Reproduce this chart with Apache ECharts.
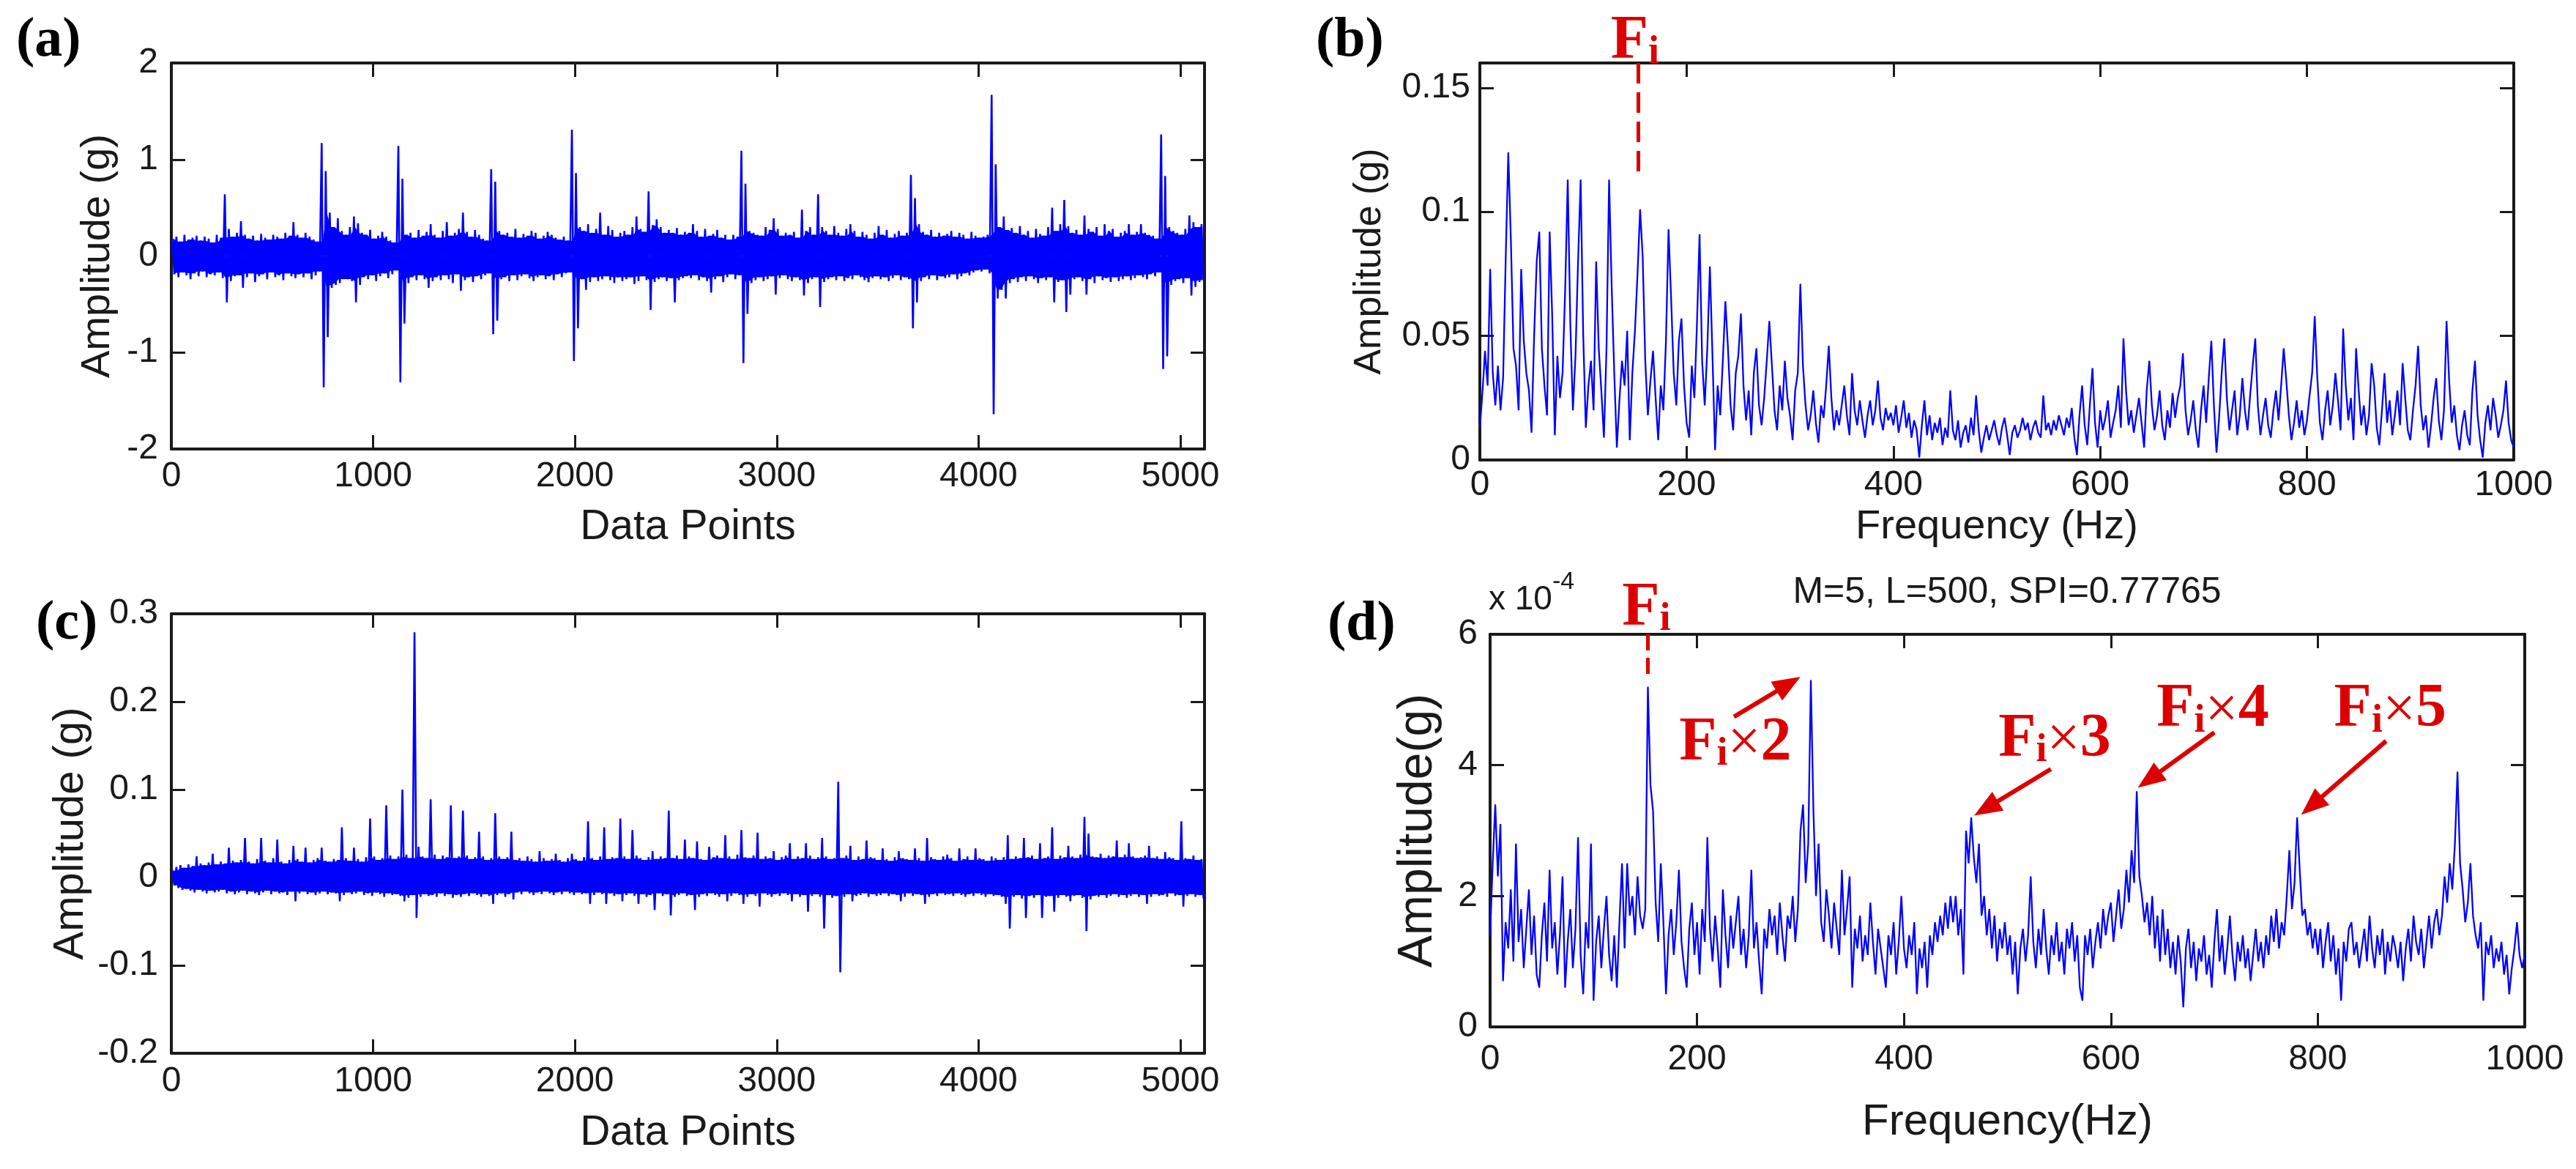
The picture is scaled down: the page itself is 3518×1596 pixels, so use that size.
<!DOCTYPE html>
<html><head><meta charset="utf-8">
<script src="https://cdn.jsdelivr.net/npm/echarts@6/dist/echarts.min.js"></script>
<style>html,body{margin:0;padding:0;background:#fff}#c{width:3518px;height:1596px}</style>
</head><body><div id="c"></div>
<script>
// ---------- DATA ----------
// (a) raw signal: max / min of each 20-sample block, unit 0.01 g (256 blocks = 5120 points)
const aHi = [
18,20,15,22,17,19,21,16,20,18,14,22,19,64,28,20,
24,36,22,18,21,16,23,19,17,22,20,18,24,21,35,22,
19,24,20,17,15,117,88,45,30,39,26,22,30,41,34,24,
22,27,18,21,25,20,16,14,114,80,22,24,19,27,21,25,
33,22,19,26,35,21,24,28,45,25,20,27,22,18,16,90,
77,26,22,24,20,28,19,23,21,26,24,18,21,25,22,19,
17,20,16,131,86,30,26,33,24,28,45,22,31,27,20,24,
26,22,30,41,28,25,67,32,38,30,24,27,24,29,22,25,
24,33,26,20,28,21,23,27,19,22,17,22,20,109,75,26,
24,22,21,30,27,39,28,21,24,22,25,19,48,26,30,22,
64,30,26,22,31,24,21,28,33,26,20,25,22,18,24,31,
22,27,19,23,26,21,24,84,60,33,25,22,27,20,24,21,
23,26,20,24,22,18,25,21,19,20,22,167,95,30,41,27,
29,24,31,22,26,19,28,23,21,30,50,26,33,58,31,24,
27,22,42,28,25,30,21,33,26,28,20,24,26,33,22,25,
33,24,22,21,18,126,83,30,26,24,22,28,42,35,30,33];
const aLo = [
-19,-22,-17,-20,-24,-18,-21,-16,-22,-19,-20,-17,-23,-48,-26,-21,
-20,-33,-22,-18,-27,-21,-19,-24,-17,-22,-20,-25,-18,-21,-23,-19,
-22,-18,-24,-20,-16,-136,-84,-33,-30,-28,-24,-24,-26,-48,-30,-22,
-24,-20,-26,-21,-18,-23,-19,-15,-131,-70,-28,-22,-25,-20,-24,-33,
-26,-22,-25,-20,-24,-28,-19,-36,-25,-22,-27,-21,-24,-20,-18,-81,
-67,-24,-22,-26,-20,-25,-21,-19,-23,-26,-22,-20,-24,-21,-25,-19,
-22,-18,-17,-109,-75,-24,-35,-27,-22,-26,-24,-21,-25,-28,-22,-26,
-24,-22,-29,-26,-21,-25,-56,-27,-24,-22,-26,-23,-48,-25,-23,-21,
-23,-20,-25,-22,-26,-38,-24,-21,-27,-22,-19,-24,-20,-111,-60,-28,
-25,-22,-26,-24,-21,-40,-23,-20,-24,-26,-22,-25,-41,-28,-24,-22,
-53,-27,-24,-22,-25,-21,-26,-23,-24,-20,-22,-25,-27,-23,-21,-24,
-22,-26,-23,-20,-25,-22,-24,-75,-48,-26,-22,-24,-20,-25,-21,-23,
-22,-19,-24,-21,-18,-20,-17,-15,-16,-14,-18,-164,-44,-35,-44,-28,
-24,-27,-22,-26,-21,-24,-28,-23,-25,-22,-48,-27,-25,-58,-40,-24,
-22,-26,-40,-24,-28,-21,-25,-23,-27,-22,-26,-24,-21,-25,-23,-20,
-22,-24,-19,-21,-17,-117,-104,-30,-26,-24,-28,-23,-41,-32,-27,-25];

// (c) filtered signal: max / min of each 20-sample block, unit 0.001 g
const cHi = [
8,12,14,11,15,13,24,16,14,17,27,15,18,16,34,19,
17,20,45,18,16,21,45,19,17,22,43,18,16,20,36,21,
18,34,17,20,22,34,19,18,21,20,57,22,19,34,21,18,
23,67,24,20,22,82,25,21,24,100,26,22,279,35,24,22,
89,26,21,25,23,82,22,24,76,25,21,23,52,24,20,22,
73,24,21,23,52,20,22,19,24,21,18,30,22,19,21,27,
20,18,22,27,21,19,23,64,22,20,24,57,21,23,22,67,
24,21,54,25,22,20,23,30,21,24,22,76,22,25,21,43,
24,22,41,21,20,35,23,25,22,48,24,21,26,54,23,22,
25,51,21,24,22,30,20,23,25,39,21,24,22,39,25,21,
23,45,24,21,22,109,22,25,36,20,24,21,42,23,22,20,
33,21,19,23,30,22,21,20,33,22,19,45,23,21,20,24,
26,22,19,33,21,24,20,33,22,21,19,24,22,20,23,48,
21,24,22,45,23,25,21,39,22,24,57,21,25,23,36,24,
22,26,69,50,24,23,27,22,25,24,42,23,26,39,24,22,
23,25,36,22,24,21,29,23,22,20,64,22,21,25,20,21];
const cLo = [
-9,-12,-14,-13,-15,-17,-14,-16,-18,-15,-17,-16,-14,-18,-16,-19,
-17,-15,-19,-16,-18,-20,-17,-15,-19,-16,-18,-17,-20,-16,-27,-18,
-16,-19,-17,-20,-18,-16,-19,-17,-18,-27,-20,-17,-19,-18,-16,-20,
-18,-21,-17,-19,-22,-18,-20,-19,-21,-27,-23,-20,-46,-22,-19,-21,
-20,-22,-18,-21,-19,-23,-20,-22,-19,-21,-18,-20,-22,-19,-21,-30,
-20,-18,-22,-19,-25,-17,-19,-16,-18,-20,-17,-19,-16,-18,-20,-17,
-19,-16,-18,-20,-17,-19,-18,-30,-20,-17,-19,-30,-18,-21,-19,-27,
-20,-18,-21,-30,-19,-22,-20,-37,-18,-21,-19,-43,-22,-20,-18,-21,
-20,-37,-22,-19,-21,-18,-20,-22,-19,-27,-21,-18,-20,-30,-22,-19,
-21,-33,-18,-20,-22,-19,-21,-18,-20,-27,-19,-22,-20,-39,-21,-19,
-22,-58,-20,-23,-21,-108,-22,-19,-27,-21,-20,-18,-22,-19,-21,-20,
-18,-21,-19,-20,-27,-22,-18,-21,-19,-20,-30,-22,-19,-21,-18,-20,
-19,-21,-18,-20,-22,-19,-21,-18,-20,-22,-19,-21,-20,-22,-30,-58,
-22,-20,-24,-46,-21,-23,-20,-46,-22,-21,-39,-23,-20,-22,-27,-21,
-20,-23,-61,-25,-21,-22,-20,-23,-21,-19,-22,-20,-23,-21,-19,-22,
-20,-30,-22,-19,-21,-20,-22,-18,-21,-20,-33,-21,-19,-22,-20,-24];

// (b) envelope spectrum 0..1000 Hz, step 2.5 Hz, unit 0.001 g
const bSpec = [
13,27,44,30,77,35,22,38,20,33, 81,124,89,45,38,20,77,48,35,28,
11,50,80,92,45,30,18,92,58,10, 42,25,35,68,113,55,20,42,80,113,
50,13,30,40,20,80,45,28,9,45, 113,70,35,5,24,40,30,52,8,35,
52,75,101,82,40,18,32,44,25,8, 30,20,48,93,65,35,22,48,57,30,
15,9,38,25,55,91,40,22,45,78, 42,4,30,18,40,64,45,22,12,35,
42,59,30,16,28,10,35,45,22,14, 25,40,56,38,20,12,30,20,40,25,
18,8,28,35,71,38,22,12,18,28, 15,7,22,17,30,46,25,12,20,14,
22,30,18,10,35,20,14,24,16,9, 18,24,14,20,32,17,12,21,16,19,
14,22,11,17,24,13,19,9,16,12, 1,14,24,10,18,8,15,11,17,6,
13,9,28,12,8,16,5,11,14,7, 17,10,26,12,3,9,14,8,12,16,
10,6,13,17,10,2,11,14,9,12, 17,12,15,8,13,16,11,9,26,12,
15,10,16,12,18,14,10,17,13,21, 9,2,18,30,14,6,22,37,15,5,
20,12,17,24,9,15,20,30,13,49, 28,14,20,11,18,25,15,5,28,40,
22,12,18,28,14,8,20,13,27,17, 25,30,43,20,10,16,24,12,5,20,
30,15,33,48,22,3,17,35,49,25, 12,20,28,10,18,33,20,12,26,38,
49,22,10,18,25,14,9,20,28,16, 30,45,32,18,8,15,24,13,20,10,
16,26,35,58,33,15,8,20,28,14, 22,35,24,12,53,30,16,25,8,45,
28,14,22,10,18,39,30,13,6,20, 35,15,24,10,18,28,14,39,25,12,
8,20,30,46,22,12,18,5,14,25, 33,16,8,20,56,32,15,22,10,4,
14,20,10,6,28,40,18,8,1,15, 22,12,25,18,9,14,20,32,15,8,
5];

// (d) enhanced spectrum 0..1000 Hz, step 2.5 Hz, unit 0.1 x 1e-4 g
const dSpec = [
14,25,34,23,31,7,16,12,21,10, 28,13,18,9,15,21,11,17,8,6,
14,19,10,24,12,16,8,14,23,6, 13,18,9,15,29,11,5,16,12,28,
4,13,17,9,15,20,11,7,14,6, 16,25,12,25,17,20,14,23,17,15,
18,52,37,33,19,13,25,16,5,14, 18,11,16,24,13,9,6,15,19,11,
16,8,18,13,29,15,10,17,12,6, 21,14,9,17,12,16,20,11,15,9,
14,24,12,16,10,5,15,12,18,14, 17,11,19,14,10,17,15,20,13,18,
30,34,22,28,53,33,20,28,16,13, 21,17,12,19,15,11,24,14,18,23,
6,15,12,17,10,14,11,19,13,8, 15,12,9,6,14,11,16,8,13,20,
12,9,14,11,16,5,12,9,13,6, 14,11,16,13,17,14,19,15,20,16,
20,14,18,8,30,25,32,26,22,28, 17,20,14,18,12,17,10,15,12,16,
11,14,8,13,5,12,15,10,14,23, 13,9,15,11,18,12,8,14,11,16,
10,13,8,15,12,16,10,14,6,4, 14,11,15,9,13,16,12,18,14,17,
19,13,17,21,15,18,24,19,27,22, 36,23,20,16,19,14,20,12,17,10,
18,11,15,9,13,8,14,10,3,12, 15,9,13,7,12,10,14,8,11,6,
13,18,10,14,8,12,17,11,7,13, 10,14,9,12,7,11,15,10,13,9,
14,11,17,13,18,12,16,14,20,27, 18,22,32,24,17,18,14,16,12,15,
11,15,9,13,16,10,14,8,12,4, 13,10,15,16,11,13,9,12,15,10,
17,12,9,14,11,15,8,13,10,14, 12,9,13,7,12,15,10,17,13,11,
15,9,13,17,12,16,18,14,17,23, 19,25,21,28,39,25,21,16,19,25,
17,14,12,16,4,13,11,14,9,12, 10,13,8,11,5,9,12,16,11,9,
11];

// labels / annotations
const panelLetters = ['(a)', '(b)', '(c)', '(d)'];
const xNames = ['Data Points', 'Frequency (Hz)', 'Data Points', 'Frequency(Hz)'];
const yNames = ['Amplitude (g)', 'Amplitude (g)', 'Amplitude (g)', 'Amplitude(g)'];
const dTitle = 'M=5, L=500, SPI=0.77765';
const dScaleNote = ['x 10', '-4'];
const fiFreqB = 153, fiDashB = [0.16, 0.116], fiTextB = [150, 0.16];
const fiFreqD = 152.4, fiDashD = [6, 5.3], fiTextD = [151, 6];
const harmNums = ['2', '3', '4', '5'];
const harmTextAt = [[237, 4.33], [545.6, 4.39], [698.5, 4.84], [870, 4.84]];
const arrowFrom = [[235.7, 4.74], [542, 3.94], [700, 4.5], [866, 4.37]];
const arrowTo = [[288.4, 5.24], [479.3, 3.34], [636.9, 3.78], [794, 3.38]];

// ---------- BUILD ----------
const INK = '#1a1a1a', BLUE = '#0000ff', RED = '#dd0000';
const SANS = "'Liberation Sans',Arial,sans-serif";
const SERIF = "'Liberation Serif','Times New Roman',serif";

function blocks(hi, lo, scale) {
  const out = [];
  hi.forEach((h, k) => { out.push([k * 20 + 5, h * scale]); out.push([k * 20 + 15, lo[k] * scale]); });
  return out;
}
// dense core of the signal: smallest excursion among neighbouring blocks (spikes stay thin lines)
function coreOf(arr, scale, pick) {
  return arr.map((v, k) => {
    const nb = [arr[k - 1], v, arr[k + 1]].filter(u => u !== undefined);
    return [k * 20 + 10, pick(...nb) * scale];
  });
}
const aData = blocks(aHi, aLo, 0.01);
const cData = blocks(cHi, cLo, 0.001);
const bData = bSpec.map((v, i) => [i * 2.5, v / 1000]);
const dData = dSpec.map((v, i) => [i * 2.5, v / 10]);

const grids = [
  {left: 234, top: 86, width: 1411, height: 527},
  {left: 2021, top: 86, width: 1412, height: 542},
  {left: 234, top: 838, width: 1411, height: 600},
  {left: 2035, top: 866, width: 1413, height: 536}
];
const xCfg = [
  {min: 0, max: 5120, interval: 1000, hideMax: true, margin: 14, nameGap: 79, nameSize: 57},
  {min: 0, max: 1000, interval: 200, hideMax: false, margin: 11, nameGap: 64, nameSize: 56},
  {min: 0, max: 5120, interval: 1000, hideMax: true, margin: 15, nameGap: 81, nameSize: 57},
  {min: 0, max: 1000, interval: 200, hideMax: false, margin: 21, nameGap: 100, nameSize: 60}
];
const yCfg = [
  {min: -2, max: 2, interval: 1, hideMax: false, margin: 18, nameGap: 72, nameSize: 56},
  {min: 0, max: 0.16, interval: 0.05, hideMax: true, margin: 13, nameGap: 124, nameSize: 52},
  {min: -0.2, max: 0.3, interval: 0.1, hideMax: false, margin: 18, nameGap: 108, nameSize: 58},
  {min: 0, max: 6, interval: 2, hideMax: false, margin: 17, nameGap: 65, nameSize: 66}
];
const lineAx = {show: true, onZero: false, lineStyle: {color: INK, width: 4}};
const tickAx = {show: true, inside: true, length: 19, lineStyle: {color: INK, width: 3}};
const plain = v => String(+v.toFixed(4));

const xAxis = [], yAxis = [];
grids.forEach((g, i) => {
  const xc = xCfg[i], yc = yCfg[i];
  xAxis.push({gridIndex: i, type: 'value', position: 'bottom', min: xc.min, max: xc.max, interval: xc.interval,
    axisLine: lineAx, axisTick: tickAx, splitLine: {show: false},
    axisLabel: {margin: xc.margin, fontFamily: SANS, fontSize: 48, color: INK, formatter: plain,
      showMaxLabel: !xc.hideMax, showMinLabel: true},
    name: xNames[i], nameLocation: 'middle', nameGap: xc.nameGap,
    nameTextStyle: {fontFamily: SANS, fontSize: xc.nameSize, color: INK}});
  xAxis.push({gridIndex: i, type: 'value', position: 'top', min: xc.min, max: xc.max, interval: xc.interval,
    axisLine: lineAx, axisTick: tickAx, splitLine: {show: false}, axisLabel: {show: false}});
  yAxis.push({gridIndex: i, type: 'value', position: 'left', min: yc.min, max: yc.max, interval: yc.interval,
    axisLine: lineAx, axisTick: tickAx, splitLine: {show: false},
    axisLabel: {margin: yc.margin, fontFamily: SANS, fontSize: 48, color: INK, formatter: plain,
      showMaxLabel: !yc.hideMax, showMinLabel: true},
    name: yNames[i], nameLocation: 'middle', nameGap: yc.nameGap,
    nameTextStyle: {fontFamily: SANS, fontSize: yc.nameSize, color: INK}});
  yAxis.push({gridIndex: i, type: 'value', position: 'right', min: yc.min, max: yc.max, interval: yc.interval,
    axisLine: lineAx, axisTick: tickAx, splitLine: {show: false}, axisLabel: {show: false}});
});

const redRich = {
  F: {fontFamily: SERIF, fontWeight: 'bold', fontSize: 84, lineHeight: 84, color: RED, verticalAlign: 'bottom'},
  i: {fontFamily: SERIF, fontWeight: 'bold', fontSize: 54, lineHeight: 54, color: RED, verticalAlign: 'bottom'},
  m: {fontFamily: SERIF, fontWeight: 'normal', fontSize: 80, lineHeight: 84, color: RED, verticalAlign: 'bottom'},
  x: {fontFamily: SERIF, fontWeight: 'bold', fontSize: 84, lineHeight: 84, color: RED, verticalAlign: 'bottom'}
};
function textPoint(coord, fmt, pos, offset) {
  return {coord: coord, symbol: 'circle', symbolSize: 1, itemStyle: {color: 'rgba(0,0,0,0)'},
    label: {show: true, position: pos, distance: 0, offset: offset, formatter: fmt, rich: redRich}};
}
const dashStyle = {color: RED, width: 5, type: [28, 12]};
const hidden = {opacity: 0, width: 0};
function core(xi, yi, hi, lo, scale) {
  return [coreOf(hi, scale, Math.min), coreOf(lo, scale, Math.max)].map(d => ({
    type: 'line', xAxisIndex: xi, yAxisIndex: yi, data: d, symbol: 'none',
    lineStyle: hidden, areaStyle: {color: BLUE, opacity: 1, origin: 0}, animation: false, silent: true, z: 1}));
}

const series = [].concat(
  core(0, 0, aHi, aLo, 0.01),
  [{type: 'line', xAxisIndex: 0, yAxisIndex: 0, data: aData, symbol: 'none', lineStyle: {color: BLUE, width: 2.6}, animation: false, silent: true, z: 2}],
  [{type: 'line', xAxisIndex: 2, yAxisIndex: 2, data: bData, symbol: 'none', lineStyle: {color: BLUE, width: 2.3}, animation: false, silent: true,
    markLine: {silent: true, animation: false, symbol: ['none', 'none'], label: {show: false}, lineStyle: dashStyle,
      data: [[{coord: [fiFreqB, fiDashB[0]]}, {coord: [fiFreqB, fiDashB[1]]}]]},
    markPoint: {silent: true, animation: false, data: [textPoint(fiTextB, '{F|F}{i|i}', 'top', [0, 14])]}}],
  core(4, 4, cHi, cLo, 0.001),
  [{type: 'line', xAxisIndex: 4, yAxisIndex: 4, data: cData, symbol: 'none', lineStyle: {color: BLUE, width: 2.6}, animation: false, silent: true, z: 2}],
  [{type: 'line', xAxisIndex: 6, yAxisIndex: 6, data: dData, symbol: 'none', lineStyle: {color: BLUE, width: 2.3}, animation: false, silent: true,
    markLine: {silent: true, animation: false, symbol: ['none', 'none'], label: {show: false},
      data: [[{coord: [fiFreqD, fiDashD[0]], lineStyle: {color: RED, width: 5, type: [22, 10]}}, {coord: [fiFreqD, fiDashD[1]]}]]
        .concat(arrowFrom.map((f, k) => [
          {coord: f, symbol: 'none', lineStyle: {color: RED, width: 6, type: 'solid'}},
          {coord: arrowTo[k], symbol: 'triangle', symbolSize: [30, 38]}
        ]))},
    markPoint: {silent: true, animation: false,
      data: [textPoint(fiTextD, '{F|F}{i|i}', 'top', [0, 8])]
        .concat(harmNums.map((t, k) => textPoint(harmTextAt[k], '{F|F}{i|i}{m|×}{x|' + t + '}', 'inside', [0, 0])))}}]
);

const title = panelLetters.map((t, i) => ({
  text: t, left: [22, 1797, 49, 1813][i], top: [18, 18, 814, 815][i], padding: 0,
  textStyle: {fontFamily: SERIF, fontWeight: 'bold', fontSize: 76, color: '#000'}
}));
title.push({text: dTitle, left: 2741, top: 784, textAlign: 'center', padding: 0,
  textStyle: {fontFamily: SANS, fontSize: 50, fontWeight: 'normal', color: INK}});
title.push({text: '{a|' + dScaleNote[0] + '}{b|' + dScaleNote[1] + '}', left: 2033, top: 778, padding: 0,
  textStyle: {fontWeight: 'normal', rich: {
    a: {fontFamily: SANS, fontSize: 46, fontWeight: 'normal', lineHeight: 64, color: INK, verticalAlign: 'bottom'},
    b: {fontFamily: SANS, fontSize: 34, fontWeight: 'normal', lineHeight: 34, color: INK, verticalAlign: 'top'}}}});

const chart = echarts.init(document.getElementById('c'), null, {renderer: 'canvas', width: 3518, height: 1596});
chart.setOption({
  animation: false, backgroundColor: '#ffffff',
  grid: grids, xAxis: xAxis, yAxis: yAxis, series: series, title: title
});
</script></body></html>
